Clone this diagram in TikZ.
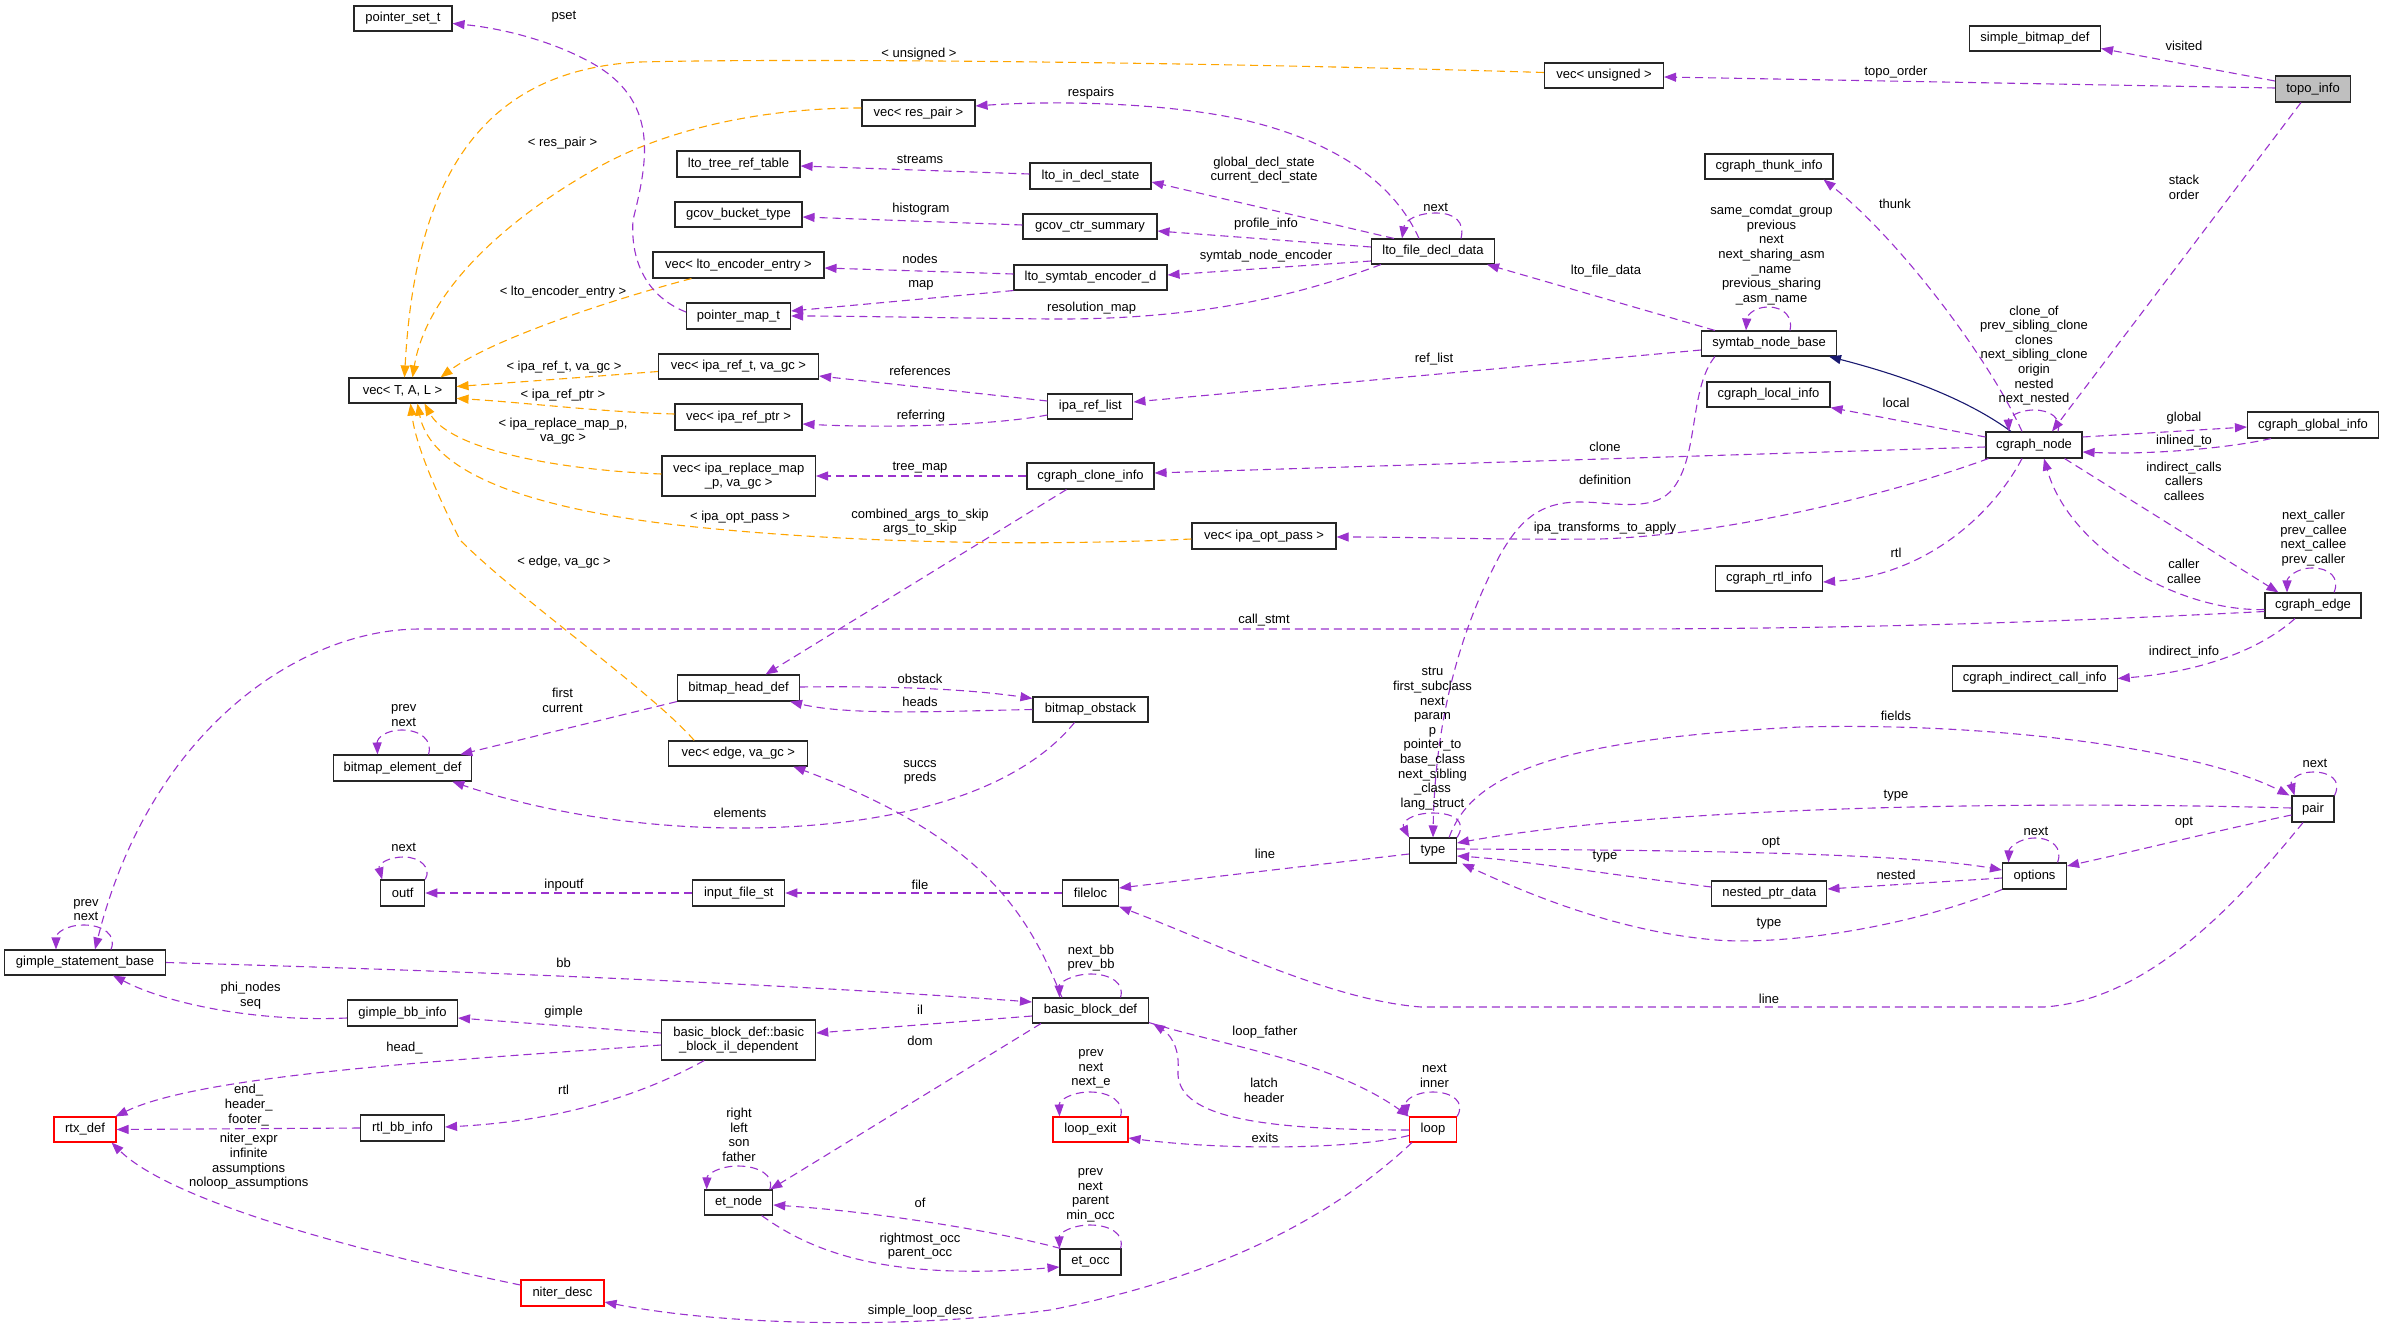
\documentclass[tikz,border=0pt]{standalone}
\usepackage{fontspec}
\setmainfont{Liberation Sans}
\usetikzlibrary{arrows.meta,calc}
\definecolor{purp}{HTML}{9A32CD}
\definecolor{orng}{HTML}{FFA500}
\definecolor{navyc}{HTML}{191970}
\newcommand\dxfont{\fontsize{13}{14.6}\selectfont}
\begin{document}
\begin{tikzpicture}[x=1pt,y=-1pt,
  cls/.style={draw=black!85, line width=1.1pt, fill=white, inner sep=0pt, minimum height=25pt, font=\dxfont, align=center},
  redcls/.style={cls, draw=red},
  lbl/.style={font=\dxfont, align=center, inner sep=0pt},
  pe/.style={draw=purp, line width=1.1pt, dash pattern=on 8pt off 5pt, -{Triangle[length=12pt,width=9pt]}},
  oe/.style={pe, draw=orng},
  ne/.style={draw=navyc, line width=1.1pt, -{Triangle[length=12pt,width=9pt]}}]
\useasboundingbox (0,0) rectangle (2384,1329);
% ---------------- nodes ----------------
\node[cls, minimum width=98pt] (pst) at (403,18.5) {pointer\_set\_t};
\node[cls, minimum width=107pt] (vtal) at (402.5,390.5) {vec< T, A, L >};
\node[cls, minimum width=113pt, minimum height=26pt] (vrp) at (918.5,113) {vec< res\_pair >};
\node[cls, minimum width=123pt, minimum height=26pt] (ltrt) at (738.5,164) {lto\_tree\_ref\_table};
\node[cls, minimum width=121pt, minimum height=26pt] (lids) at (1090.5,176) {lto\_in\_decl\_state};
\node[cls, minimum width=127pt] (gbt) at (738.5,214.5) {gcov\_bucket\_type};
\node[cls, minimum width=134pt] (gcs) at (1090,226.5) {gcov\_ctr\_summary};
\node[cls, minimum width=171pt, minimum height=26pt] (vlee) at (738.5,265) {vec< lto\_encoder\_entry >};
\node[cls, minimum width=153pt] (lsed) at (1090.5,277.5) {lto\_symtab\_encoder\_d};
\node[cls, minimum width=104pt, minimum height=26pt] (pmt) at (738.5,316) {pointer\_map\_t};
\node[cls, minimum width=160pt] (virt) at (738.5,366.5) {vec< ipa\_ref\_t, va\_gc >};
\node[cls, minimum width=85pt] (irl) at (1090.4,406.5) {ipa\_ref\_list};
\node[cls, minimum width=127pt, minimum height=26pt] (virp) at (738.5,417) {vec< ipa\_ref\_ptr >};
\node[cls, minimum width=119pt] (vuns) at (1604,75.5) {vec< unsigned >};
\node[cls, minimum width=123pt] (lfdd) at (1433,251.5) {lto\_file\_decl\_data};
\node[cls, minimum width=128pt] (cti) at (1769,166.5) {cgraph\_thunk\_info};
\node[cls, minimum width=135pt] (snb) at (1769,343.5) {symtab\_node\_base};
\node[cls, minimum width=123pt] (cli) at (1768.5,394.5) {cgraph\_local\_info};
\node[cls, minimum width=131pt] (sbd) at (2035,38.5) {simple\_bitmap\_def};
\node[cls, minimum width=75pt, minimum height=26pt, fill=black!25] (topo) at (2313,89) {topo\_info};
\node[cls, minimum width=96pt, minimum height=26pt] (cgn) at (2034,445) {cgraph\_node};
\node[cls, minimum width=131pt, minimum height=26pt] (cgi) at (2313,425) {cgraph\_global\_info};
\node[cls, minimum width=138.5pt, minimum height=26pt] (bed) at (402.5,768) {bitmap\_element\_def};
\node[cls, minimum width=44pt, minimum height=26pt] (outf) at (402.7,893) {outf};
\node[cls, minimum width=153.5pt, minimum height=40pt] (virm) at (738.7,476) {vec< ipa\_replace\_map\\\_p, va\_gc >};
\node[cls, minimum width=127pt, minimum height=26pt] (cci) at (1090.5,476) {cgraph\_clone\_info};
\node[cls, minimum width=122pt, minimum height=26pt] (bhd) at (738.5,688) {bitmap\_head\_def};
\node[cls, minimum width=115pt] (bob) at (1090.5,709.5) {bitmap\_obstack};
\node[cls, minimum width=139pt] (vedge) at (738.3,753.5) {vec< edge, va\_gc >};
\node[cls, minimum width=92pt, minimum height=26pt] (ifs) at (738.7,893) {input\_file\_st};
\node[cls, minimum width=56pt, minimum height=26pt] (floc) at (1090.5,893) {fileloc};
\node[cls, minimum width=144pt, minimum height=26pt] (viop) at (1264,536) {vec< ipa\_opt\_pass >};
\node[cls, minimum width=107pt] (cri) at (1769,578.5) {cgraph\_rtl\_info};
\node[cls, minimum width=47pt] (typ) at (1433,850.5) {type};
\node[cls, minimum width=115pt] (npd) at (1769.4,893.5) {nested\_ptr\_data};
\node[cls, minimum width=96pt] (ced) at (2313,605.5) {cgraph\_edge};
\node[cls, minimum width=165pt] (cici) at (2034.7,678.5) {cgraph\_indirect\_call\_info};
\node[cls, minimum width=42pt, minimum height=26pt] (pair) at (2313,809) {pair};
\node[cls, minimum width=64pt, minimum height=26pt] (opts) at (2034.5,876) {options};
\node[cls, minimum width=161pt] (gsb) at (85,962.5) {gimple\_statement\_base};
\node[cls, minimum width=110pt, minimum height=26pt] (gbi) at (402.5,1013) {gimple\_bb\_info};
\node[redcls, minimum width=62pt] (rtx) at (85,1129.5) {rtx\_def};
\node[cls, minimum width=84pt, minimum height=26pt] (rbi) at (402.5,1128) {rtl\_bb\_info};
\node[redcls, minimum width=83pt, minimum height=26pt] (nd) at (562.5,1293) {niter\_desc};
\node[cls, minimum width=116pt] (bbd) at (1090.5,1010.5) {basic\_block\_def};
\node[cls, minimum width=154pt, minimum height=40pt] (bbil) at (738.7,1040) {basic\_block\_def::basic\\\_block\_il\_dependent};
\node[redcls, minimum width=75pt] (lex) at (1090.5,1129.5) {loop\_exit};
\node[cls, minimum width=68pt] (etn) at (738.7,1202.5) {et\_node};
\node[cls, minimum width=61pt, minimum height=26pt] (eto) at (1090.5,1262) {et\_occ};
\node[redcls, minimum width=47pt] (lp) at (1433,1129.5) {loop};
% ---------------- orange template edges ----------------
\draw[oe] ($(vuns.west)+(0,-3)$) .. controls (1200,62) and (800,58) .. (640,62) .. controls (480,70) and (415,180) .. ($(vtal.north)+(2,0)$);
\draw[oe] ($(vrp.west)+(0,-5)$) .. controls (760,108) and (660,130) .. (590,172) .. controls (490,230) and (425,300) .. ($(vtal.north)+(10,0)$);
\draw[oe] ($(vlee.south)+(-47,0)$) .. controls (610,300) and (490,340) .. ($(vtal.north east)+(-16,0)$);
\draw[oe] ($(virt.west)+(0,5)$) .. controls (600,376) and (520,382) .. ($(vtal.east)+(0,-4)$);
\draw[oe] ($(virp.west)+(0,-3)$) .. controls (600,412) and (520,402) .. ($(vtal.east)+(0,8)$);
\draw[oe] ($(virm.west)+(0,-2)$) .. controls (560,470) and (450,450) .. ($(vtal.south)+(22,0)$);
\draw[oe] ($(viop.west)+(0,3)$) .. controls (1000,548) and (800,540) .. (660,523) .. controls (520,505) and (430,470) .. ($(vtal.south)+(15,0)$);
\draw[oe] ($(vedge.north west)+(26,0)$) .. controls (650,690) and (520,600) .. (460,540) .. controls (430,480) and (415,440) .. ($(vtal.south)+(8,0)$);
% ---------------- purple edges ----------------
\draw[pe] ($(topo.west)+(0,-8)$) -- ($(sbd.east)+(0,10)$);
\draw[pe] ($(topo.west)+(0,-1)$) -- ($(vuns.east)+(0,1.5)$);
\draw[pe] ($(topo.south)+(-12,0)$) -- ($(cgn.north)+(18,0)$);
\draw[pe] ($(cgn.north)+(-12,0)$) .. controls (1990,360) and (1900,240) .. ($(cti.south east)+(-10,0)$);
\draw[ne] ($(cgn.north)+(-23,0)$) .. controls (1975,405) and (1920,380) .. ($(snb.south)+(60,0)$);
\draw[pe] ($(cgn.west)+(0,-8)$) -- (cli.south east);
\draw[pe] ($(cgn.east)+(0,-8)$) -- ($(cgi.west)+(0,2)$);
\draw[pe] ($(cgi.south)+(-42,0)$) .. controls (2230,448) and (2150,455) .. ($(cgn.east)+(0,7)$);
\draw[pe] ($(cgn.west)+(0,2)$) -- ($(cci.east)+(0,-3)$);
\draw[pe] ($(cgn.south west)+(3,0)$) .. controls (1880,498) and (1720,535) .. (1600,539) .. controls (1500,540) and (1420,537) .. ($(viop.east)+(0,1)$);
\draw[pe] ($(cgn.south)+(-12,0)$) .. controls (1995,510) and (1930,575) .. ($(cri.east)+(0,3.5)$);
\draw[pe] ($(cgn.south east)+(-18,0)$) -- ($(ced.north west)+(14,0)$);
\draw[pe] ($(ced.west)+(0,4)$) .. controls (2180,612) and (2070,550) .. ($(cgn.south)+(10,0)$);
\draw[pe] ($(ced.west)+(0,6)$) .. controls (2000,625) and (1800,629) .. (1600,629) -- (420,629) .. controls (300,629) and (150,730) .. ($(gsb.north)+(10,0)$);
\draw[pe] ($(ced.south)+(-18,0)$) .. controls (2260,650) and (2200,672) .. (cici.east);
\draw[pe] ($(cgn.north)+(24,0)$) .. controls (2062,418) and (2050,410) .. (2034,410) .. controls (2018,410) and (2008,418) .. ($(cgn.north)+(-25,0)$);
\draw[pe] ($(ced.north)+(21,0)$) .. controls (2340,578) and (2330,568) .. (2312,568) .. controls (2296,568) and (2287,578) .. ($(ced.north)+(-26,0)$);
\draw[pe] (cci.west) -- (virm.east);
\draw[pe] ($(cci.south)+(-24,0)$) -- ($(bhd.north)+(27,0)$);
\draw[pe] ($(bhd.east)+(0,-1)$) .. controls (880,686) and (960,688) .. ($(bob.north west)+(0,2)$);
\draw[pe] (bob.west) .. controls (950,711) and (850,716) .. ($(bhd.south east)+(-10,0)$);
\draw[pe] (bhd.south west) -- ($(bed.north east)+(-12,0)$);
\draw[pe] ($(bob.south)+(-16,0)$) .. controls (1020,790) and (900,828) .. (740,828) .. controls (620,828) and (520,805) .. ($(bed.south east)+(-20,0)$);
\draw[pe] ($(bed.north)+(26,0)$) .. controls (433,740) and (420,730) .. (402,730) .. controls (386,730) and (377,738) .. ($(bed.north)+(-25,0)$);
\draw[pe] ($(bbd.north west)+(30,0)$) .. controls (1030,920) and (990,840) .. ($(vedge.south east)+(-15,0)$);
\draw[pe] ($(pmt.west)+(0,-4)$) .. controls (650,298) and (630,265) .. (633,220) .. controls (648,160) and (660,100) .. (590,62) .. controls (550,40) and (500,28) .. ($(pst.east)+(0,5)$);
\draw[pe] ($(lfdd.north)+(-14,0)$) .. controls (1395,185) and (1340,145) .. (1256,123) .. controls (1180,103) and (1060,100) .. ($(vrp.east)+(0,-7)$);
\draw[pe] ($(lfdd.north west)+(23,0)$) -- ($(lids.east)+(0,6)$);
\draw[pe] ($(lfdd.north)+(28,0)$) .. controls (1465,222) and (1455,213) .. (1436,213) .. controls (1418,213) and (1405,220) .. ($(lfdd.north)+(-31,0)$);
\draw[pe] ($(lids.west)+(0,-2)$) -- ($(ltrt.east)+(0,2)$);
\draw[pe] ($(gcs.west)+(0,-1.5)$) -- ($(gbt.east)+(0,2.5)$);
\draw[pe] ($(lfdd.west)+(0,-4.5)$) -- ($(gcs.east)+(0,4.5)$);
\draw[pe] ($(lfdd.west)+(0,9.5)$) -- ($(lsed.east)+(0,-2.5)$);
\draw[pe] ($(lsed.west)+(0,-3.5)$) -- ($(vlee.east)+(0,3)$);
\draw[pe] (lsed.south west) -- ($(pmt.east)+(0,-5)$);
\draw[pe] ($(lfdd.south west)+(10,0)$) .. controls (1300,295) and (1200,320) .. (1050,319) .. controls (950,318) and (850,316) .. (pmt.east);
\draw[pe] ($(irl.west)+(0,-5.5)$) -- ($(virt.east)+(0,9.5)$);
\draw[pe] ($(irl.west)+(0,8.5)$) .. controls (990,426) and (880,428) .. ($(virp.east)+(0,7)$);
\draw[pe] ($(snb.west)+(0,6.5)$) -- ($(irl.east)+(0,-4.5)$);
\draw[pe] ($(snb.north west)+(14,0)$) -- ($(lfdd.south east)+(-8,0)$);
\draw[pe] ($(snb.north)+(21,0)$) .. controls (1793,318) and (1785,307) .. (1768,307) .. controls (1755,307) and (1747,315) .. ($(snb.north)+(-23,0)$);
\draw[pe] ($(snb.south west)+(14,0)$) .. controls (1688,390) and (1700,460) .. (1670,492) .. controls (1650,512) and (1610,502) .. (1580,502) .. controls (1540,502) and (1520,520) .. (1500,555) .. controls (1460,630) and (1435,720) .. (typ.north);
\draw[pe] (ifs.west) -- (outf.east);
\draw[pe] (outf.north east) .. controls (432,868) and (420,857) .. (404,857) .. controls (388,857) and (378,864) .. ($(outf.north west)+(2,0)$);
\draw[pe] (floc.west) -- (ifs.east);
\draw[pe] ($(typ.west)+(0,3.5)$) -- ($(floc.east)+(0,-5)$);
\draw[pe] ($(pair.south)+(-10,0)$) .. controls (2240,900) and (2150,1000) .. (2044,1007) -- (1421,1007) .. controls (1330,1000) and (1220,945) .. (floc.south east);
\draw[pe] ($(typ.north east)+(-8,0)$) .. controls (1470,780) and (1540,740) .. (1800,727) .. controls (2000,722) and (2200,750) .. ($(pair.north west)+(-2,0)$);
\draw[pe] (pair.north east) .. controls (2342,780) and (2330,772) .. (2313,772) .. controls (2298,772) and (2290,780) .. ($(pair.north west)+(3,0)$);
\draw[pe] ($(pair.west)+(0,-1)$) .. controls (2000,800) and (1650,808) .. ($(typ.east)+(0,-7.5)$);
\draw[pe] ($(pair.west)+(0,6)$) .. controls (2220,830) and (2140,850) .. ($(opts.east)+(0,-10)$);
\draw[pe] ($(typ.east)+(0,-1.5)$) .. controls (1650,850) and (1900,852) .. ($(opts.west)+(0,-6)$);
\draw[pe] ($(opts.north)+(23,0)$) .. controls (2063,848) and (2052,838) .. (2035,838) .. controls (2019,838) and (2009,848) .. ($(opts.north)+(-26,0)$);
\draw[pe] ($(opts.west)+(0,2)$) -- ($(npd.east)+(0,-4.5)$);
\draw[pe] (opts.south west) .. controls (1900,930) and (1780,945) .. (1716,940) .. controls (1620,932) and (1530,895) .. ($(typ.south east)+(5,0)$);
\draw[pe] ($(npd.west)+(0,-6.5)$) .. controls (1620,876) and (1520,860) .. ($(typ.east)+(0,5.5)$);
\draw[pe] (typ.north east) .. controls (1467,822) and (1455,813) .. (1433,813) .. controls (1412,813) and (1401,822) .. (typ.north west);
\draw[pe] (gsb.east) .. controls (500,972) and (800,985) .. ($(bbd.west)+(0,-8.5)$);
\draw[pe] ($(gsb.north)+(26,0)$) .. controls (117,935) and (103,925) .. (84,925) .. controls (66,925) and (56,933) .. ($(gsb.north)+(-29,0)$);
\draw[pe] ($(gbi.west)+(0,5)$) .. controls (260,1022) and (170,1005) .. ($(gsb.south)+(28,0)$);
\draw[pe] ($(bbil.west)+(0,-7)$) -- ($(gbi.east)+(0,5)$);
\draw[pe] ($(bbil.west)+(0,5)$) .. controls (450,1060) and (200,1075) .. ($(rtx.north east)+(-1,0)$);
\draw[pe] ($(bbil.south west)+(43,0)$) .. controls (660,1085) and (580,1120) .. ($(rbi.east)+(0,-1)$);
\draw[pe] (rbi.west) -- (rtx.east);
\draw[pe] ($(nd.west)+(0,-8)$) .. controls (350,1250) and (170,1200) .. ($(rtx.south east)+(-5,0)$);
\draw[pe] ($(lp.south west)+(3,0)$) .. controls (1340,1210) and (1230,1275) .. (1050,1310) .. controls (900,1330) and (720,1325) .. ($(nd.east)+(0,9)$);
\draw[pe] ($(bbd.west)+(0,5.5)$) -- ($(bbil.east)+(0,-7)$);
\draw[pe] ($(bbd.south west)+(9,0)$) -- ($(etn.north east)+(-3,0)$);
\draw[pe] ($(bbd.north)+(30,0)$) .. controls (1125,983) and (1110,974) .. (1091,974) .. controls (1072,974) and (1059,983) .. ($(bbd.north)+(-31,0)$);
\draw[pe] ($(bbd.south east)+(0,-1)$) .. controls (1220,1045) and (1330,1060) .. (lp.north west);
\draw[pe] ($(lp.west)+(0,0.5)$) .. controls (1250,1130) and (1175,1115) .. (1178,1070) .. controls (1180,1045) and (1168,1033) .. ($(bbd.south east)+(4,0)$);
\draw[pe] ($(lp.west)+(0,6)$) .. controls (1350,1150) and (1220,1150) .. ($(lex.east)+(0,8.5)$);
\draw[pe] (lp.north east) .. controls (1466,1102) and (1452,1092) .. (1433,1092) .. controls (1415,1092) and (1405,1100) .. ($(lp.north west)+(-2,0)$);
\draw[pe] ($(lex.north)+(30,0)$) .. controls (1125,1102) and (1110,1092) .. (1090,1092) .. controls (1072,1092) and (1059,1100) .. ($(lex.north)+(-31,0)$);
\draw[pe] ($(etn.north)+(31,0)$) .. controls (775,1175) and (758,1166) .. (738,1166) .. controls (720,1166) and (707,1174) .. ($(etn.north)+(-32,0)$);
\draw[pe] ($(eto.north west)+(1,0)$) .. controls (1000,1232) and (880,1212) .. ($(etn.east)+(0,2.5)$);
\draw[pe] ($(etn.south)+(23,0)$) .. controls (820,1258) and (900,1280) .. ($(eto.west)+(0,5)$);
\draw[pe] ($(eto.north)+(30,0)$) .. controls (1125,1234) and (1110,1225) .. (1090,1225) .. controls (1072,1225) and (1059,1233) .. ($(eto.north)+(-31,0)$);
% ---------------- labels ----------------
\node[lbl] (l1) at (2184,46) {visited};
\node[lbl] (l2) at (1896,72) {topo\_order};
\node[lbl] (l3) at (2184,187.5) {stack\\order};
\node[lbl] (l4) at (1895,204) {thunk};
\node[lbl] (l5) at (2034,355.5) {clone\_of\\prev\_sibling\_clone\\clones\\next\_sibling\_clone\\origin\\nested\\next\_nested};
\node[lbl] (l6) at (1896,403) {local};
\node[lbl] (l7) at (2184,418) {global};
\node[lbl] (l8) at (2184,441) {inlined\_to};
\node[lbl] (l9) at (2184,481) {indirect\_calls\\callers\\callees};
\node[lbl] (l10) at (2313.5,538) {next\_caller\\prev\_callee\\next\_callee\\prev\_caller};
\node[lbl] (l11) at (2184,571.5) {caller\\callee};
\node[lbl] (l12) at (1896,553) {rtl};
\node[lbl] (l13) at (2184,652) {indirect\_info};
\node[lbl] (l14) at (1896,716) {fields};
\node[lbl] (l15) at (2315,763) {next};
\node[lbl] (l16) at (1896,796) {type};
\node[lbl] (l17) at (2184,823) {opt};
\node[lbl] (l18) at (2036,831) {next};
\node[lbl] (l19) at (1896,875) {nested};
\node[lbl] (l20) at (1264,170) {global\_decl\_state\\current\_decl\_state};
\node[lbl] (l21) at (1266,224) {profile\_info};
\node[lbl] (l22) at (1266,256) {symtab\_node\_encoder};
\node[lbl] (l23) at (1435.6,207) {next};
\node[lbl] (l24) at (1606,271) {lto\_file\_data};
\node[lbl] (l25) at (1434,359) {ref\_list};
\node[lbl] (l26) at (1771.5,255) {same\_comdat\_group\\previous\\next\\next\_sharing\_asm\\\_name\\previous\_sharing\\\_asm\_name};
\node[lbl] (l27) at (1605,447) {clone};
\node[lbl] (l28) at (1605,480) {definition};
\node[lbl] (l29) at (1605,528) {ipa\_transforms\_to\_apply};
\node[lbl] (l30) at (1264,620) {call\_stmt};
\node[lbl] (l31) at (1432.5,738.7) {stru\\first\_subclass\\next\\param\\p\\pointer\_to\\base\_class\\next\_sibling\\\_class\\lang\_struct};
\node[lbl] (l32) at (1265,854) {line};
\node[lbl] (l33) at (1605,857) {type};
\node[lbl] (l34) at (1771,843) {opt};
\node[lbl] (l35) at (1265,1032) {loop\_father};
\node[lbl] (l36) at (1264,1090.5) {latch\\header};
\node[lbl] (l37) at (1265,1138) {exits};
\node[lbl] (l38) at (1434.5,1076) {next\\inner};
\node[lbl] (l39) at (1769,999) {line};
\node[lbl] (l40) at (1769,924) {type};
\node[lbl] (l41) at (1091,93) {respairs};
\node[lbl] (l42) at (920,159) {streams};
\node[lbl] (l43) at (921,209) {histogram};
\node[lbl] (l44) at (920,259) {nodes};
\node[lbl] (l45) at (921,285) {map};
\node[lbl] (l46) at (1091.6,308) {resolution\_map};
\node[lbl] (l47) at (920,371) {references};
\node[lbl] (l48) at (921,416) {referring};
\node[lbl] (l49) at (919,54) {< unsigned >};
\node[lbl] (l50) at (564,17) {pset};
\node[lbl] (l51) at (562.5,143) {< res\_pair >};
\node[lbl] (l52) at (563,292) {< lto\_encoder\_entry >};
\node[lbl] (l53) at (564,367) {< ipa\_ref\_t, va\_gc >};
\node[lbl] (l54) at (563,395) {< ipa\_ref\_ptr >};
\node[lbl] (l55) at (563,431) {< ipa\_replace\_map\_p,\\va\_gc >};
\node[lbl] (l56) at (564,562) {< edge, va\_gc >};
\node[lbl] (l57) at (562.5,700.5) {first\\current};
\node[lbl] (l58) at (403.7,715.5) {prev\\next};
\node[lbl] (l59) at (403.7,847) {next};
\node[lbl] (l60) at (564,885) {inpoutf};
\node[lbl] (l61) at (920,468) {tree\_map};
\node[lbl] (l62) at (740,517) {< ipa\_opt\_pass >};
\node[lbl] (l63) at (920,522) {combined\_args\_to\_skip\\args\_to\_skip};
\node[lbl] (l64) at (920,679) {obstack};
\node[lbl] (l65) at (920,702) {heads};
\node[lbl] (l66) at (920,772.5) {succs\\preds};
\node[lbl] (l67) at (740,813) {elements};
\node[lbl] (l68) at (86,910) {prev\\next};
\node[lbl] (l69) at (563.6,963) {bb};
\node[lbl] (l70) at (250.6,995.5) {phi\_nodes\\seq};
\node[lbl] (l71) at (563.6,1012) {gimple};
\node[lbl] (l72) at (404.5,1048) {head\_};
\node[lbl] (l73) at (563.6,1090) {rtl};
\node[lbl] (l74) at (248.7,1105) {end\_\\header\_\\footer\_};
\node[lbl] (l75) at (248.7,1161.5) {niter\_expr\\infinite\\assumptions\\noloop\_assumptions};
\node[lbl] (l76) at (920,885) {file};
\node[lbl] (l77) at (1091,958) {next\_bb\\prev\_bb};
\node[lbl] (l78) at (920,1010) {il};
\node[lbl] (l79) at (920,1041) {dom};
\node[lbl] (l80) at (1091,1069) {prev\\next\\next\_e};
\node[lbl] (l81) at (739,1134.7) {right\\left\\son\\father};
\node[lbl] (l82) at (920,1203) {of};
\node[lbl] (l83) at (920,1246) {rightmost\_occ\\parent\_occ};
\node[lbl] (l84) at (1090.5,1195.3) {prev\\next\\parent\\min\_occ};
\node[lbl] (l85) at (920,1311) {simple\_loop\_desc};
\end{tikzpicture}
\end{document}
